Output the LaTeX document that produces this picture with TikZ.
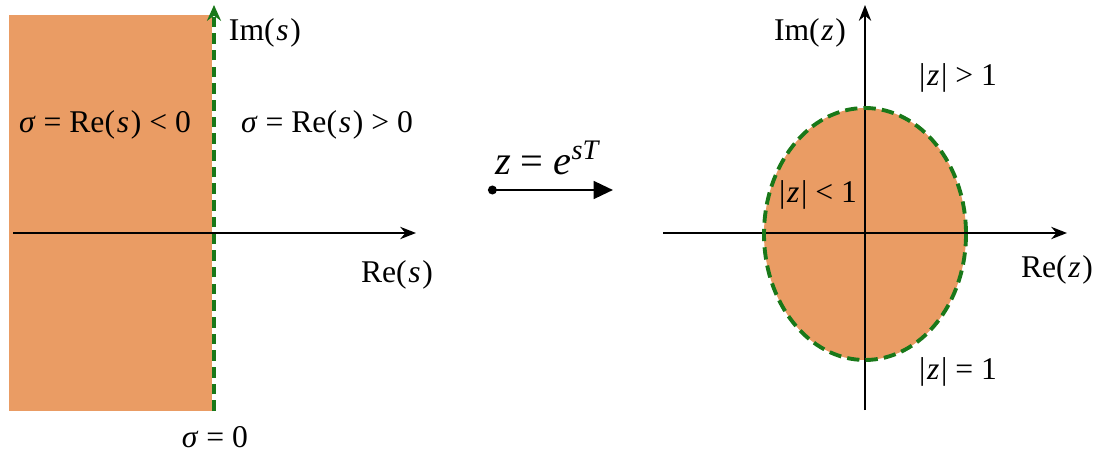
\documentclass[tikz,border=0pt]{standalone}
\usepackage{fontspec}
\setmainfont{Liberation Serif}
\usepackage{tikz}
\usetikzlibrary{arrows.meta,positioning}
\definecolor{region}{RGB}{234,156,100}
\definecolor{bound}{RGB}{25,120,25}
\newcommand{\vs}{\kern1pt\textit{s}\kern1pt}
\newcommand{\vz}{\kern1pt\textit{z}\kern1pt}

\begin{document}
\begin{tikzpicture}[x=0.02cm,y=-0.02cm,>=Stealth,
 lbl/.style={inner sep=1pt,font=\fontsize{18}{21}\selectfont},
 axis/.style={-{Stealth[length=9pt,width=7pt]},line width=1.1pt},
 edge/.style={bound,line width=1.8pt,dash pattern=on 6pt off 3.5pt}]
\useasboundingbox (0,0) rectangle (1097,455);
% s-plane
\fill[region] (9,15) rectangle (212,411);
\coordinate (sl) at (13,233);
\coordinate (sr) at (416,233);
\coordinate (sb) at (214,411);
\coordinate (st) at (214,5);
\draw[axis] (sl)--(sr);
\draw[edge,-{Stealth[length=9pt,width=8pt]}] (sb)--(st);
\node[lbl] (ims) at (265,33) {Im(\vs)};
\node[lbl] (neg) at (105,125) {\textit{σ} = Re(\vs) < 0};
\node[lbl] (pos) at (327,125) {\textit{σ} = Re(\vs) > 0};
\node[lbl] (res) at (397,275) {Re(\vs)};
\node[lbl] (zero) at (215,437) {\textit{σ} = 0};
% mapping
\node[lbl,font=\fontsize{23}{26}\selectfont] (map) at (548,158) {\textit{z} = \textit{e}\textsuperscript{\textit{sT}}};
\coordinate (ma) at (488,190);
\coordinate (mb) at (613,190);
\draw[{Circle[length=5pt]}-{Triangle[length=11pt,width=10pt]},line width=1.6pt] (ma)--(mb);
% z-plane
\fill[region] (865,234) ellipse [x radius=101,y radius=126];
\coordinate (zl) at (663,233);
\coordinate (zr) at (1067,233);
\coordinate (zb) at (865,410);
\coordinate (zt) at (865,5);
\draw[axis] (zl)--(zr);
\draw[axis] (zb)--(zt);
\draw[edge,line width=2.2pt,dash pattern=on 7pt off 3.5pt] (865,234) ellipse [x radius=101,y radius=126];
\node[lbl] (imz) at (810,33) {Im(\vz)};
\node[lbl] (out) at (958,78) {|\vz| > 1};
\node[lbl] (in) at (818,195) {|\vz| < 1};
\node[lbl] (rez) at (1057,270) {Re(\vz)};
\node[lbl] (unit) at (958,372) {|\vz| = 1};
\end{tikzpicture}
\end{document}
